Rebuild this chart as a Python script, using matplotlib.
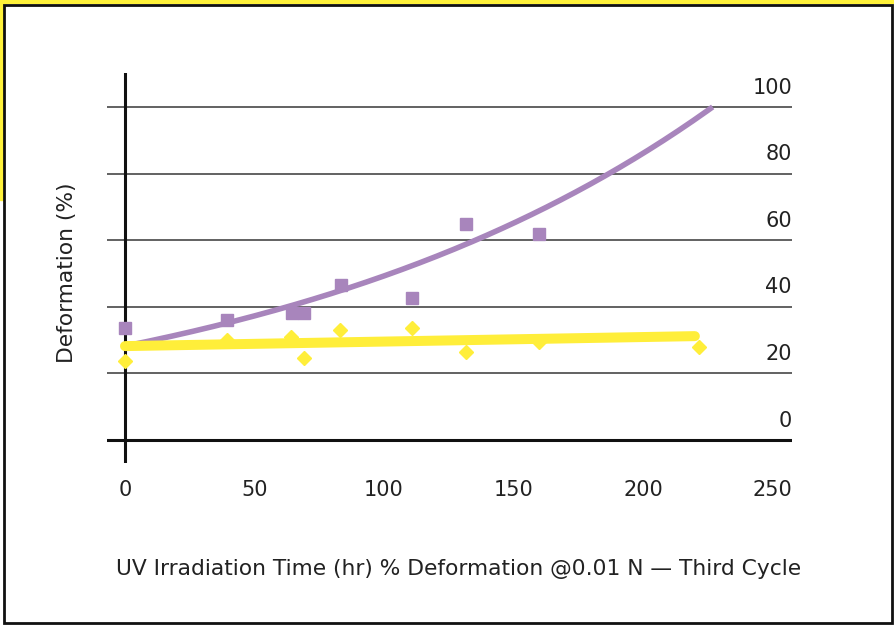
import numpy as np
import matplotlib
matplotlib.use("Agg")
import matplotlib.pyplot as plt
from matplotlib.patches import Rectangle

plt.rcParams['font.family'] = ['DejaVu Sans']

# measured points, purple squares
sq_x = [0, 39.4, 64.5, 69, 83.4, 110.8, 131.7, 159.8]
sq_y = [33.6, 36.0, 38.1, 38.1, 46.5, 42.6, 64.9, 61.9]

# measured points, yellow diamonds
dia_x = [0, 39.4, 64, 69, 83, 110.8, 131.7, 159.8, 221.6]
dia_y = [23.7, 30.0, 31.0, 24.6, 33.0, 33.6, 26.4, 29.4, 27.9]

# trendlines
exp_a, exp_b, exp_xmax = 28.2, 0.00558, 226   # y = a * exp(b x)
lin_a, lin_b, lin_xmax = 28.2, 0.0136, 220    # y = a + b x

xticks = [0, 50, 100, 150, 200, 250]
yticks = [0, 20, 40, 60, 80, 100]

purple = '#a885bc'
yellow = '#ffee3a'
txt = '#222222'

fig = plt.figure(figsize=(8.95, 6.25), dpi=100)

# frame
fig.patches.append(Rectangle((0, 1 - 3/625), 1, 3/625, transform=fig.transFigure,
                             color='#fff23a', zorder=0))
fig.patches.append(Rectangle((0, 1 - 200/625), 3/895, 200/625, transform=fig.transFigure,
                             color='#fff23a', zorder=0))
fig.patches.append(Rectangle((4/895, 1 - 623/625), 888/895, 618/625, transform=fig.transFigure,
                             fill=False, edgecolor='#111111', linewidth=2, zorder=1))

ax = fig.add_axes([107/895, 1 - 463/625, 685/895, 390/625])
ax.set_xlim(-6.95, 257.5)
ax.set_ylim(-6.9, 110.2)
for s in ax.spines.values():
    s.set_visible(False)
ax.patch.set_alpha(0)

for v in yticks:
    if v == 0:
        ax.axhline(v, color='#111111', linewidth=2.2, zorder=1)
    else:
        ax.axhline(v, color='#555555', linewidth=1.3, zorder=1)
    ax.annotate(str(v), xy=(1, v), xycoords=('axes fraction', 'data'),
                xytext=(0, 14), textcoords='offset points',
                ha='right', va='center', fontsize=15, color=txt)
ax.axvline(0, color='#111111', linewidth=2.2, zorder=1)

ax.set_yticks([])
ax.set_xticks(xticks)
ax.set_xticklabels([str(v) for v in xticks], fontsize=15, color=txt)
ax.tick_params(axis='x', length=0, pad=12)

ax.plot(sq_x, sq_y, 's', color=purple, markersize=9.2, linestyle='none', zorder=3)
ax.plot(dia_x, dia_y, 'D', color=yellow, markersize=6.8, linestyle='none', zorder=3)

xe = np.linspace(0, exp_xmax, 200)
ax.plot(xe, exp_a * np.exp(exp_b * xe), color=purple, linewidth=4, zorder=4)
xl = np.array([0, lin_xmax])
ax.plot(xl, lin_a + lin_b * xl, color=yellow, linewidth=7.2,
        solid_capstyle='round', zorder=5)

fig.text(458.5/895, 1 - 569/625, 'UV Irradiation Time (hr) % Deformation @0.01 N — Third Cycle',
         ha='center', va='center', fontsize=15.7, color=txt)
fig.text(67/895, 1 - 273/625, 'Deformation (%)', rotation=90,
         ha='center', va='center', fontsize=15.7, color=txt)

fig.savefig('out.png', dpi=100)
